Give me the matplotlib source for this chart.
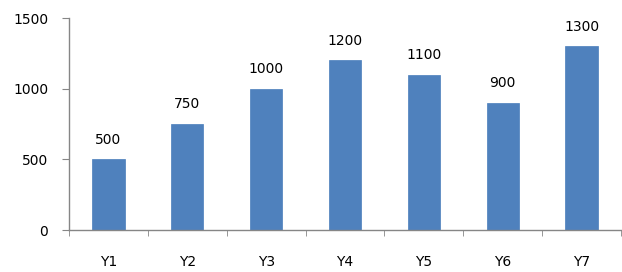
import matplotlib
matplotlib.use("Agg")
import matplotlib.pyplot as plt
import numpy as np

categories = ["Y1", "Y2", "Y3", "Y4", "Y5", "Y6", "Y7"]
values = [500, 750, 1000, 1200, 1100, 900, 1300]
yticks = [0, 500, 1000, 1500]

plt.rcParams['font.family'] = ['DejaVu Sans']
fig = plt.figure(figsize=(6.22, 2.72), dpi=100)
ax = fig.add_axes([69/622, 1-230/272, 552/622, 212/272])

x = np.arange(len(categories))
bars = ax.bar(x, values, width=0.41, color="#4F81BD", edgecolor="#4A7EBB", linewidth=0.5)
for xi, v in zip(x, values):
    ax.annotate(str(v), (xi, v), xytext=(0, 9), textcoords="offset points",
                ha="center", va="bottom", fontsize=10, color="#000000")

ax.set_xlim(-0.5, len(categories) - 0.5)
ax.set_ylim(0, 1500)
ax.set_yticks(yticks)
ax.set_yticklabels([str(t) for t in yticks], fontsize=10)
ax.set_xticks(np.arange(len(categories)))
ax.set_xticklabels(categories, fontsize=10)
ax.set_xticks(np.arange(len(categories) + 1) - 0.5, minor=True)
ax.tick_params(axis="x", which="major", length=0, pad=18)
ax.tick_params(axis="x", which="minor", length=4, color="#868686", direction="out")
ax.tick_params(axis="y", length=5, color="#868686", direction="out", pad=10)
for s in ["top", "right"]:
    ax.spines[s].set_visible(False)
for s in ["left", "bottom"]:
    ax.spines[s].set_color("#868686")
    ax.spines[s].set_linewidth(1)

fig.savefig("out.png", dpi=100)
